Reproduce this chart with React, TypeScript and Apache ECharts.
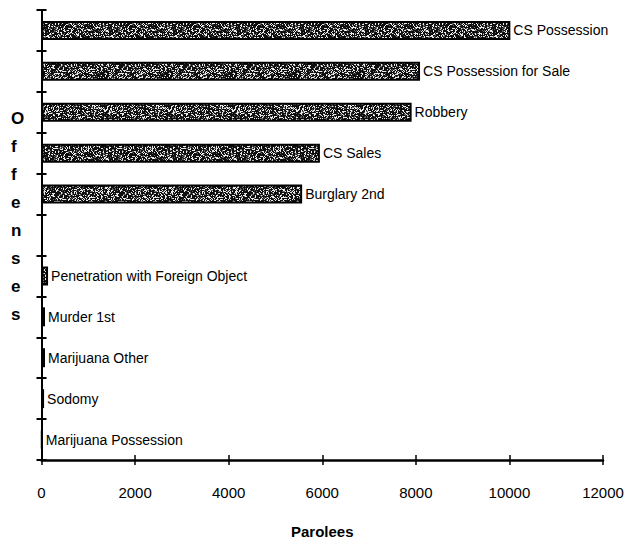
import React, { useEffect, useRef } from "react";
import * as echarts from "echarts";

const categories = [
  "CS Possession",
  "CS Possession for Sale",
  "Robbery",
  "CS Sales",
  "Burglary 2nd",
  "",
  "Penetration with Foreign Object",
  "Murder 1st",
  "Marijuana Other",
  "Sodomy",
  "Marijuana Possession",
];
const parolees: (number | string)[] = [10020, 8090, 7910, 5950, 5570, "-", 140, 75, 75, 55, 12];
const xMin = 0;
const xMax = 12000;
const xStep = 2000;

const FONT = "'Liberation Sans', Arial, sans-serif";

function makeTexture(): HTMLCanvasElement {
  const c = document.createElement("canvas");
  const s = 64;
  c.width = s;
  c.height = s;
  const ctx = c.getContext("2d")!;
  const img = ctx.createImageData(s, s);
  for (let y = 0; y < s; y++) {
    for (let x = 0; x < s; x++) {
      let h = Math.imul(x + 1, 374761393) ^ Math.imul(y + 7, 668265263);
      h = Math.imul(h ^ (h >>> 13), 1274126177);
      h = (h ^ (h >>> 16)) >>> 0;
      const r = (h % 1000) / 1000;
      let v = 15;
      if (r > 0.64) v = 100;
      if (r > 0.76) v = 235;
      const i = (y * s + x) * 4;
      img.data[i] = v;
      img.data[i + 1] = v;
      img.data[i + 2] = v;
      img.data[i + 3] = 255;
    }
  }
  ctx.putImageData(img, 0, 0);
  return c;
}

export default function App() {
  const ref = useRef<HTMLDivElement>(null);
  useEffect(() => {
    if (!ref.current) return;
    const chart = echarts.init(ref.current, undefined, { renderer: "svg" });
    const tex = makeTexture();
    chart.setOption({
      animation: false,
      backgroundColor: "#ffffff",
      grid: { left: 41.5, top: 10, width: 561.5, height: 450, containLabel: false },
      xAxis: [
        {
          type: "value",
          min: xMin,
          max: xMax,
          interval: xStep,
          position: "bottom",
          splitLine: { show: false },
          axisLine: { show: true, lineStyle: { color: "#000", width: 2.5 } },
          axisTick: { show: true, length: 5, lineStyle: { color: "#000", width: 1.5 } },
          axisLabel: {
            margin: 25,
            color: "#000",
            fontSize: 15,
            fontFamily: FONT,
            formatter: (v: number) => String(v),
          },
          name: "Parolees",
          nameLocation: "middle",
          nameGap: 64,
          nameTextStyle: { color: "#000", fontSize: 15, fontWeight: "bold", fontFamily: FONT },
        },
        {
          type: "value",
          min: xMin,
          max: xMax,
          interval: xStep,
          position: "bottom",
          splitLine: { show: false },
          axisLine: { show: false },
          axisTick: { show: true, inside: true, length: 5, lineStyle: { color: "#000", width: 1.5 } },
          axisLabel: { show: false },
        },
      ],
      yAxis: [
        {
          type: "category",
          inverse: true,
          data: categories,
          axisLine: { show: true, lineStyle: { color: "#000", width: 2 } },
          axisTick: { show: true, length: 5, lineStyle: { color: "#000", width: 2 } },
          axisLabel: { show: false },
          splitLine: { show: false },
        },
        {
          type: "category",
          inverse: true,
          position: "left",
          data: categories,
          axisLine: { show: false },
          axisTick: { show: true, inside: true, length: 5, lineStyle: { color: "#000", width: 2 } },
          axisLabel: { show: false },
          splitLine: { show: false },
        },
      ],
      graphic: [
        {
          type: "text",
          left: 11,
          top: 104,
          style: {
            text: "O\nf\nf\ne\nn\ns\ne\ns",
            fill: "#000",
            font: "bold 17px " + FONT,
            lineHeight: 28,
            align: "center",
            width: 16,
          },
        },
      ],
      series: [
        {
          type: "bar",
          xAxisIndex: 0,
          yAxisIndex: 0,
          data: parolees,
          barWidth: 19,
          itemStyle: {
            color: { image: tex, repeat: "repeat" },
            borderColor: "#000",
            borderWidth: 2,
          },
          label: {
            show: true,
            position: "right",
            distance: 3,
            formatter: "{b}",
            color: "#000",
            fontSize: 14,
            fontFamily: FONT,
          },
        },
      ],
    });
    return () => chart.dispose();
  }, []);
  return (
    <div
      ref={ref}
      style={{ position: "absolute", left: 0, top: 0, width: 636, height: 544 }}
    />
  );
}
